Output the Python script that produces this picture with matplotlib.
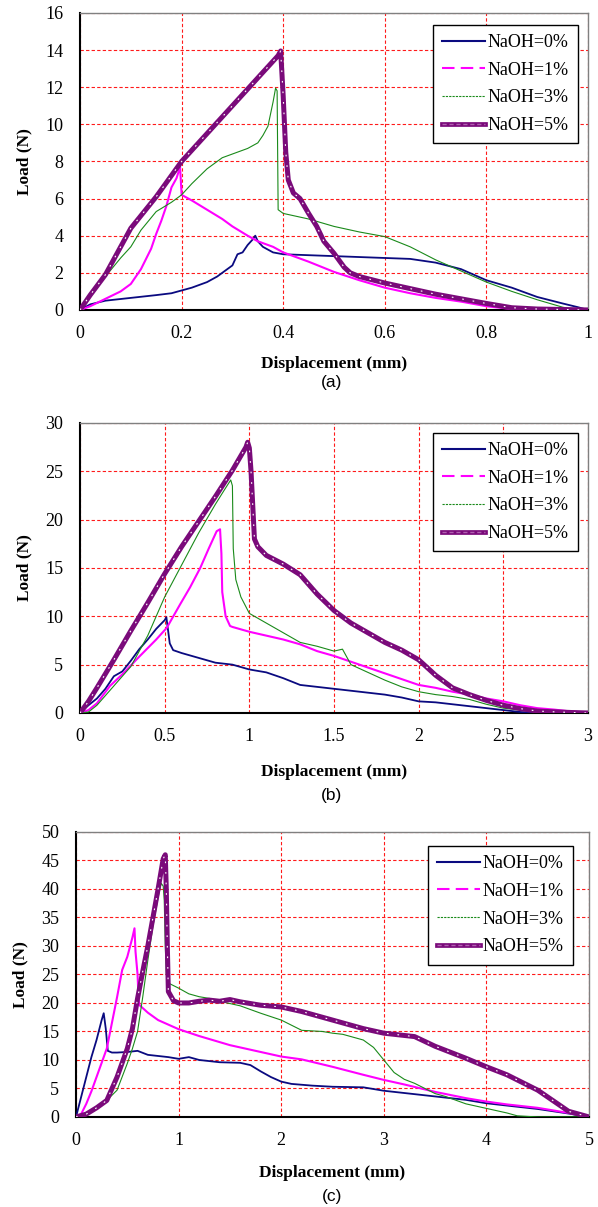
import matplotlib.pyplot as plt
from matplotlib.lines import Line2D

# ---- data ----
labels = ["NaOH=0%", "NaOH=1%", "NaOH=3%", "NaOH=5%"]

# (a)
a_x0 = [0, 0.02, 0.05, 0.1, 0.15, 0.18, 0.2, 0.22, 0.25, 0.27, 0.28, 0.3, 0.31, 0.32, 0.33, 0.34, 0.345,
        0.35, 0.36, 0.38, 0.4, 0.45, 0.5, 0.55, 0.6, 0.65, 0.7, 0.75, 0.8, 0.85, 0.9, 0.95, 0.98, 1.0]
a_y0 = [0, 0.3, 0.5, 0.65, 0.8, 0.9, 1.05, 1.2, 1.5, 1.8, 2.0, 2.4, 3.0, 3.1, 3.5, 3.8, 4.0,
        3.7, 3.4, 3.1, 3.0, 2.95, 2.9, 2.85, 2.8, 2.75, 2.55, 2.2, 1.6, 1.2, 0.7, 0.35, 0.15, 0]
a_x1 = [0, 0.02, 0.05, 0.08, 0.1, 0.12, 0.14, 0.15, 0.16, 0.17, 0.18, 0.19, 0.197, 0.2, 0.22, 0.25,
        0.28, 0.3, 0.33, 0.35, 0.38, 0.4, 0.45, 0.5, 0.55, 0.6, 0.65, 0.7, 0.75, 0.8, 0.85, 0.9, 1.0]
a_y1 = [0, 0.2, 0.6, 1.0, 1.4, 2.2, 3.3, 4.1, 4.8, 5.6, 6.6, 7.1, 7.7, 6.2, 5.9, 5.4,
        4.9, 4.5, 4.0, 3.7, 3.4, 3.1, 2.6, 2.05, 1.6, 1.2, 0.9, 0.65, 0.45, 0.2, 0.05, 0, 0]
a_x3 = [0, 0.02, 0.05, 0.08, 0.1, 0.12, 0.15, 0.18, 0.2, 0.22, 0.25, 0.28, 0.3, 0.33, 0.35, 0.36,
        0.37, 0.38, 0.385, 0.388, 0.39, 0.4, 0.45, 0.5, 0.55, 0.6, 0.65, 0.7, 0.75, 0.8, 0.85, 0.9, 0.95, 0.97, 1.0]
a_y3 = [0, 0.8, 1.8, 2.8, 3.4, 4.3, 5.3, 5.8, 6.2, 6.8, 7.6, 8.2, 8.4, 8.7, 9.0, 9.4,
        9.9, 11.2, 11.95, 11.8, 5.4, 5.2, 4.9, 4.5, 4.2, 3.95, 3.4, 2.7, 2.1, 1.5, 1.0, 0.55, 0.15, 0.05, 0]
a_x5 = [0, 0.02, 0.05, 0.1, 0.15, 0.2, 0.25, 0.3, 0.35, 0.39, 0.395, 0.4, 0.405, 0.41, 0.42, 0.433,
        0.45, 0.466, 0.48, 0.5, 0.52, 0.532, 0.55, 0.6, 0.65, 0.7, 0.75, 0.8, 0.85, 0.9, 1.0]
a_y5 = [0, 0.8, 1.9, 4.4, 6.1, 8.0, 9.5, 11.0, 12.5, 13.7, 13.95, 11.5, 8.5, 7.0, 6.3, 6.0,
        5.2, 4.5, 3.7, 3.05, 2.3, 2.0, 1.8, 1.45, 1.15, 0.85, 0.6, 0.35, 0.12, 0.05, 0]

# (b)
b_x0 = [0, 0.05, 0.1, 0.15, 0.2, 0.25, 0.3, 0.35, 0.4, 0.45, 0.5, 0.51, 0.53, 0.55, 0.6, 0.7, 0.8, 0.9,
        1.0, 1.1, 1.2, 1.3, 1.4, 1.5, 1.6, 1.7, 1.8, 1.9, 2.0, 2.1, 2.2, 2.3, 2.4, 2.5, 2.6, 2.7, 3.0]
b_y0 = [0, 0.8, 1.5, 2.5, 3.8, 4.3, 5.4, 6.6, 7.6, 8.7, 9.6, 9.9, 7.2, 6.5, 6.2, 5.7, 5.2, 5.0,
        4.5, 4.2, 3.6, 2.9, 2.7, 2.5, 2.3, 2.1, 1.9, 1.6, 1.2, 1.1, 0.9, 0.7, 0.5, 0.3, 0.1, 0, 0]
b_x1 = [0, 0.05, 0.1, 0.177, 0.25, 0.354, 0.45, 0.512, 0.59, 0.65, 0.71, 0.76, 0.807, 0.827, 0.835,
        0.84, 0.86, 0.886, 0.9, 1.0, 1.1, 1.2, 1.3, 1.4, 1.5, 1.6, 1.7, 1.8, 1.9, 2.0, 2.1, 2.2, 2.3,
        2.4, 2.5, 2.6, 2.7, 2.8, 2.9, 3.0]
b_y1 = [0, 0.3, 1.0, 2.8, 4.0, 5.9, 7.6, 8.8, 11.2, 13.0, 15.0, 17.0, 18.8, 19.0, 16.5,
        12.5, 10.0, 9.0, 8.9, 8.4, 8.0, 7.6, 7.1, 6.4, 5.9, 5.3, 4.7, 4.1, 3.5, 2.9, 2.6, 2.2, 1.9,
        1.5, 1.2, 0.8, 0.5, 0.35, 0.15, 0.05]
b_x3 = [0, 0.05, 0.1, 0.2, 0.3, 0.4, 0.5, 0.6, 0.7, 0.8, 0.85, 0.89, 0.9, 0.905, 0.92, 0.95,
        1.0, 1.1, 1.2, 1.3, 1.4, 1.5, 1.55, 1.6, 1.7, 1.8, 1.9, 2.0, 2.1, 2.2, 2.3, 2.4, 2.5, 2.6, 2.7, 2.8, 3.0]
b_y3 = [0, 0.1, 0.8, 2.8, 4.8, 8.0, 12.0, 15.3, 18.6, 21.6, 23.0, 24.1, 23.5, 17.0, 13.8, 12.0,
        10.3, 9.3, 8.3, 7.3, 6.9, 6.4, 6.6, 5.0, 4.2, 3.4, 2.7, 2.2, 1.9, 1.7, 1.4, 0.9, 0.5, 0.3, 0.15, 0.05, 0]
b_x5 = [0, 0.05, 0.1, 0.2, 0.3, 0.4, 0.5, 0.6, 0.7, 0.8, 0.9, 0.95, 0.98, 0.99, 1.0, 1.01, 1.02, 1.03,
        1.05, 1.1, 1.2, 1.3, 1.4, 1.5, 1.6, 1.7, 1.8, 1.9, 2.0, 2.1, 2.2, 2.3, 2.4, 2.5, 2.6, 2.7, 2.8, 2.9, 3.0]
b_y5 = [0, 1.2, 2.6, 5.5, 8.5, 11.4, 14.4, 17.2, 19.8, 22.4, 25.1, 26.6, 27.5, 28.0, 27.4, 25.0, 21.5, 18.0,
        17.2, 16.3, 15.4, 14.3, 12.3, 10.6, 9.3, 8.3, 7.3, 6.5, 5.5, 3.9, 2.6, 1.9, 1.3, 0.8, 0.45, 0.2, 0.12, 0.05, 0]

# (c)
c_x0 = [0, 0.05, 0.1, 0.15, 0.2, 0.25, 0.27, 0.29, 0.31, 0.35, 0.4, 0.5, 0.6, 0.7, 0.8, 0.9, 1.0, 1.1,
        1.2, 1.4, 1.6, 1.7, 1.8, 1.9, 2.0, 2.1, 2.3, 2.5, 2.8, 3.0, 3.2, 3.5, 3.8, 4.0, 4.2, 4.5, 4.8, 5.0]
c_y0 = [0, 3.5, 7.0, 10.5, 13.5, 17.0, 18.2, 15.5, 11.6, 11.3, 11.3, 11.4, 11.6, 10.9, 10.7, 10.5, 10.2, 10.5,
        10.0, 9.6, 9.5, 9.1, 8.0, 7.0, 6.2, 5.8, 5.5, 5.3, 5.2, 4.6, 4.2, 3.6, 3.0, 2.4, 2.0, 1.4, 0.6, 0]
c_x1 = [0, 0.05, 0.1, 0.15, 0.2, 0.25, 0.3, 0.35, 0.4, 0.45, 0.5, 0.55, 0.57, 0.58, 0.6, 0.61, 0.62,
        0.7, 0.8, 0.9, 1.0, 1.2, 1.5, 1.8, 2.0, 2.2, 2.5, 2.8, 3.0, 3.2, 3.5, 3.8, 4.0, 4.2, 4.5, 4.8, 5.0]
c_y1 = [0, 0.5, 2.3, 4.5, 7.0, 9.5, 12.0, 16.5, 21.0, 25.8, 28.1, 31.5, 33.1, 29.0, 25.0, 20.5, 19.6,
        18.3, 17.0, 16.2, 15.4, 14.2, 12.6, 11.4, 10.6, 10.1, 8.8, 7.4, 6.5, 5.7, 4.4, 3.3, 2.7, 2.2, 1.6, 0.7, 0]
c_x3 = [0, 0.1, 0.2, 0.3, 0.4, 0.5, 0.55, 0.6, 0.65, 0.7, 0.75, 0.8, 0.83, 0.85, 0.86, 0.87, 0.88, 0.9,
        1.0, 1.1, 1.2, 1.3, 1.4, 1.5, 1.6, 1.8, 2.0, 2.2, 2.4, 2.5, 2.6, 2.8, 2.9, 3.0, 3.1, 3.2, 3.3,
        3.4, 3.5, 3.6, 3.8, 4.0, 4.2, 4.3, 4.5, 5.0]
c_y3 = [0, 0.5, 1.5, 2.9, 4.7, 9.4, 12.0, 15.0, 21.0, 27.5, 33.5, 38.5, 41.0, 40.5, 38.0, 30.0, 25.0, 23.5,
        22.6, 21.6, 21.1, 20.8, 20.3, 19.9, 19.5, 18.2, 17.0, 15.2, 15.0, 14.7, 14.5, 13.5, 12.2, 10.0, 7.8, 6.6, 5.9,
        5.0, 4.1, 3.6, 2.3, 1.5, 0.7, 0.2, 0, 0]
c_x5 = [0, 0.1, 0.2, 0.3, 0.4, 0.5, 0.55, 0.6, 0.65, 0.7, 0.75, 0.8, 0.85, 0.87, 0.88, 0.89, 0.9, 0.95,
        1.0, 1.1, 1.2, 1.3, 1.4, 1.5, 1.6, 1.8, 2.0, 2.2, 2.5, 2.8, 3.0, 3.3, 3.5, 3.8, 4.0, 4.2, 4.5, 4.8, 5.0]
c_y5 = [0, 0.5, 1.6, 2.9, 7.0, 12.0, 15.5, 20.8, 25.5, 30.0, 35.0, 40.0, 45.3, 46.0, 40.0, 30.0, 22.0, 20.4,
        20.0, 20.0, 20.3, 20.5, 20.3, 20.6, 20.2, 19.6, 19.3, 18.5, 17.0, 15.5, 14.7, 14.1, 12.4, 10.3, 8.8, 7.4, 4.7, 1.0, 0]

panels = [
    ("(a)", [(a_x0, a_y0), (a_x1, a_y1), (a_x3, a_y3), (a_x5, a_y5)], [0, 0.2, 0.4, 0.6, 0.8, 1], list(range(0, 17, 2))),
    ("(b)", [(b_x0, b_y0), (b_x1, b_y1), (b_x3, b_y3), (b_x5, b_y5)], [0, 0.5, 1, 1.5, 2, 2.5, 3], list(range(0, 31, 5))),
    ("(c)", [(c_x0, c_y0), (c_x1, c_y1), (c_x3, c_y3), (c_x5, c_y5)], [0, 1, 2, 3, 4, 5], list(range(0, 51, 5))),
]
tick_txt = [["0", "0.2", "0.4", "0.6", "0.8", "1"],
            ["0", "0.5", "1", "1.5", "2", "2.5", "3"],
            ["0", "1", "2", "3", "4", "5"]]

# axes rectangles in figure fractions (left, bottom, width, height)
rects = [(0.1338, 0.7432, 0.8495, 0.2461),
         (0.1338, 0.4093, 0.8495, 0.2403),
         (0.1271, 0.0746, 0.8579, 0.2361)]
leg_anchor = [(0.980, 0.96), (0.980, 0.966), (0.969, 0.951)]
caption_y = [0.6827, 0.3413, 0.0091]
xlabel_pad = [10, 13.5, 11]

navy = "#0a0a80"
magenta = "#ff00ff"
green = "#1a8a1a"
purple = "#7a0a7a"
serif = "Liberation Serif"

fig = plt.figure(figsize=(5.98, 12.07), dpi=100)

for i, (cap, series, xt, yt) in enumerate(panels):
    ax = fig.add_axes(rects[i])
    (x0, y0), (x1, y1), (x3, y3), (x5, y5) = series
    ax.plot(x0, y0, color=navy, lw=1.3, zorder=3)
    ax.plot(x1, y1, color=magenta, lw=1.5, zorder=3)
    ax.plot(x3, y3, color=green, lw=0.8, zorder=4)
    ax.plot(x5, y5, color=purple, lw=3.6, zorder=5)
    ax.plot(x5, y5, color="white", lw=0.8, ls=(0, (1.5, 8)), zorder=6)

    ax.set_xlim(xt[0], xt[-1])
    ax.set_ylim(yt[0], yt[-1])
    ax.set_xticks(xt)
    ax.set_xticklabels(tick_txt[i])
    ax.set_yticks(yt)
    ax.tick_params(length=0, labelsize=13, pad=11)
    ax.tick_params(axis="y", pad=12)
    for lab in ax.get_xticklabels() + ax.get_yticklabels():
        lab.set_family(serif)
    ax.grid(True, color="#ff1a1a", ls=(0, (3, 2)), lw=0.8)
    ax.set_axisbelow(True)
    for s in ["top", "right"]:
        ax.spines[s].set_color("#808080")
        ax.spines[s].set_linewidth(1.0)
    for s in ["bottom", "left"]:
        ax.spines[s].set_color("black")
        ax.spines[s].set_linewidth(1.5)

    ax.set_xlabel("Displacement (mm)", family=serif, fontweight="bold", fontsize=12.5, labelpad=xlabel_pad[i])
    ax.set_ylabel("Load (N)", family=serif, fontweight="bold", fontsize=12.5, labelpad=9)

    h0 = Line2D([], [], color=navy, lw=1.5)
    h1 = Line2D([], [], color=magenta, lw=1.5, ls=(0, (6, 3)))
    h3 = Line2D([], [], color=green, lw=0.8, ls=(0, (2, 1)))
    h5a = Line2D([], [], color=purple, lw=3.4)
    h5b = Line2D([], [], color="#b060b0", lw=1.0, ls=(0, (3, 2)))
    leg = ax.legend([h0, h1, h3, (h5a, h5b)], labels, loc="upper right", bbox_to_anchor=leg_anchor[i],
                    prop={"family": serif, "size": 13}, frameon=True, fancybox=False,
                    edgecolor="black", framealpha=1, handlelength=2.4, handletextpad=0.15,
                    labelspacing=0.6, borderpad=0.5, borderaxespad=0)
    leg.get_frame().set_linewidth(1.0)

    fig.text(0.555, caption_y[i], cap, ha="center", va="center", family="Liberation Sans", fontsize=12.5)

fig.savefig("out.png", dpi=100)
